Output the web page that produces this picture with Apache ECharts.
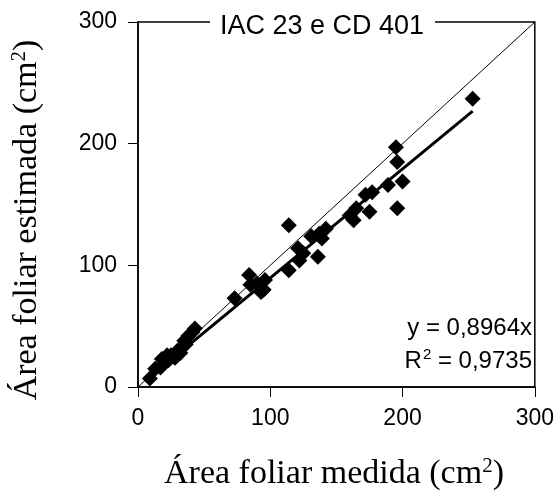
<!DOCTYPE html>
<html>
<head>
<meta charset="utf-8">
<script src="https://cdn.jsdelivr.net/npm/echarts@6/dist/echarts.min.js"></script>
<style>
  html, body { margin: 0; padding: 0; background: #fff; }
  #chart { width: 557px; height: 494px; }
</style>
</head>
<body>
<div id="chart"></div>
<script>
// área medida (x) e área estimada (y)
var medida = [253, 195, 196, 200, 189, 196, 175, 177, 172, 165, 160, 163,
              114, 142, 137, 131, 139, 136, 121, 125, 122, 114,
              84, 85, 93, 96, 90, 95, 73,
              43, 41, 38, 35, 30, 27, 25, 22, 21, 17, 13, 9, 23, 18, 28, 32, 36];
var estimada = [237, 197, 185, 169, 166, 147, 144, 160, 158, 147, 141, 137,
                133, 130, 126, 124, 122, 107, 114, 110, 104, 96,
                92, 84, 78, 88, 85, 80, 73,
                48, 45, 42, 38, 30, 25, 26, 26, 22, 16, 15, 7, 22, 23, 24, 28, 35];
var ticks = [0, 100, 200, 300];
var inclinacao = 0.8964;
var trendX = [9, 253];

var chart = echarts.init(document.getElementById('chart'));

var pontos = medida.map(function (v, i) { return [v, estimada[i]]; });
var reta = trendX.map(function (x) { return [x, x * inclinacao]; });

var option = {
  backgroundColor: '#FFFFFF',
  animation: false,
  grid: {
    left: 138, right: 21, top: 22, bottom: 107,
    show: true,
    borderColor: '#000',
    borderWidth: 1.5
  },
  xAxis: {
    type: 'value',
    min: ticks[0], max: ticks[ticks.length - 1], interval: 100,
    axisLine: { show: true, onZero: false, lineStyle: { color: '#000', width: 1.5 } },
    axisTick: { show: true, inside: false, length: 10, lineStyle: { color: '#000', width: 1 } },
    axisLabel: { color: '#000', fontSize: 23, fontFamily: 'Liberation Sans, Arial', margin: 20 },
    splitLine: { show: false }
  },
  yAxis: {
    type: 'value',
    min: ticks[0], max: ticks[ticks.length - 1], interval: 100,
    axisLine: { show: true, onZero: false, lineStyle: { color: '#000', width: 1.5 } },
    axisTick: { show: true, inside: false, length: 10, lineStyle: { color: '#000', width: 1 } },
    axisLabel: { color: '#000', fontSize: 23, fontFamily: 'Liberation Sans, Arial', margin: 21 },
    splitLine: { show: false }
  },
  series: [
    {
      name: '1:1',
      type: 'line',
      data: [[0, 0], [300, 300]],
      symbol: 'none',
      lineStyle: { color: '#000', width: 1 },
      z: 1
    },
    {
      name: 'ajuste',
      type: 'line',
      data: reta,
      symbol: 'none',
      lineStyle: { color: '#000', width: 3 },
      z: 2
    },
    {
      name: 'dados',
      type: 'scatter',
      data: pontos,
      symbol: 'diamond',
      symbolSize: 16,
      itemStyle: { color: '#000', opacity: 1 },
      z: 3
    }
  ],
  graphic: [
    {
      type: 'rect', z: 100,
      shape: { x: 210, y: 12, width: 225, height: 22 },
      style: { fill: '#fff' }
    },
    {
      type: 'text', z: 101,
      x: 322, y: 27,
      style: {
        text: 'IAC 23 e CD 401',
        fill: '#000', font: '27px "Liberation Sans", Arial',
        align: 'center', verticalAlign: 'middle'
      }
    },
    {
      type: 'text', z: 101,
      x: 532, y: 328,
      style: {
        text: 'y = 0,8964x',
        fill: '#000', font: '24px "Liberation Sans", Arial',
        align: 'right', verticalAlign: 'middle'
      }
    },
    {
      type: 'text', z: 101,
      x: 532, y: 361,
      style: {
        text: '{a|R}{s|2}{a| = 0,9735}',
        align: 'right', verticalAlign: 'middle',
        rich: {
          a: { fontSize: 24, fontFamily: 'Liberation Sans, Arial', fill: '#000', color: '#000' },
          s: { fontSize: 15, fontFamily: 'Liberation Sans, Arial', fill: '#000', color: '#000', verticalAlign: 'top', padding: [0, 0, 12, 1] }
        }
      }
    },
    {
      type: 'text', z: 101,
      x: 334, y: 474,
      style: {
        text: '{a|Área foliar medida (cm}{s|2}{a|)}',
        align: 'center', verticalAlign: 'middle',
        rich: {
          a: { fontSize: 34, fontFamily: 'Liberation Serif, Times New Roman', fill: '#000', color: '#000' },
          s: { fontSize: 21, fontFamily: 'Liberation Serif, Times New Roman', fill: '#000', color: '#000', verticalAlign: 'top', padding: [0, 0, 16, 0] }
        }
      }
    },
    {
      type: 'text', z: 101,
      x: 27, y: 220,
      rotation: Math.PI / 2,
      style: {
        text: '{a|Área foliar estimada (cm}{s|2}{a|)}',
        align: 'center', verticalAlign: 'middle',
        rich: {
          a: { fontSize: 34, fontFamily: 'Liberation Serif, Times New Roman', fill: '#000', color: '#000' },
          s: { fontSize: 21, fontFamily: 'Liberation Serif, Times New Roman', fill: '#000', color: '#000', verticalAlign: 'top', padding: [0, 0, 16, 0] }
        }
      }
    }
  ]
};

chart.setOption(option);
window.addEventListener('resize', function () {
  chart.resize();
});
</script>
</body>
</html>
